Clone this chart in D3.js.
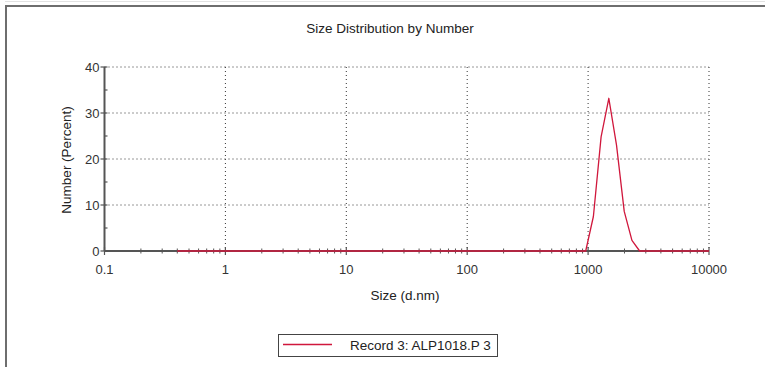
<!DOCTYPE html>
<html>
<head>
<meta charset="utf-8">
<script src="https://cdn.jsdelivr.net/npm/d3@7"></script>
<style>
  html, body { margin: 0; padding: 0; background: #fff; }
  svg { display: block; font-family: "Liberation Sans", Arial, sans-serif; }
</style>
</head>
<body>
<svg id="chart" width="765" height="367"></svg>
<script>
// Size classes (d.nm) of the measurement
const sizes = [0.4, 0.4632, 0.5365, 0.6213, 0.7195, 0.8332, 0.9649, 1.117, 1.294, 1.499,
  1.736, 2.01, 2.328, 2.696, 3.122, 3.615, 4.187, 4.849, 5.615, 6.503,
  7.531, 8.721, 10.1, 11.7, 13.54, 15.69, 18.17, 21.04, 24.36, 28.21,
  32.67, 37.84, 43.82, 50.75, 58.77, 68.06, 78.82, 91.28, 105.7, 122.4,
  141.8, 164.2, 190.1, 220.2, 255.0, 295.3, 342.0, 396.1, 458.7, 531.2,
  615.1, 712.4, 825.0, 955.4, 1106, 1281, 1484, 1718, 1990, 2305,
  2669, 3091, 3580, 4145, 4801, 5560, 6439, 7456, 8635, 10000];

// Number distribution (percent) for Record 3
const numberPct = [0, 0, 0, 0, 0, 0, 0, 0, 0, 0,
  0, 0, 0, 0, 0, 0, 0, 0, 0, 0,
  0, 0, 0, 0, 0, 0, 0, 0, 0, 0,
  0, 0, 0, 0, 0, 0, 0, 0, 0, 0,
  0, 0, 0, 0, 0, 0, 0, 0, 0, 0,
  0, 0, 0, 0, 7.5, 24.8, 33.2, 23.0, 8.6, 2.3,
  0, 0, 0, 0, 0, 0, 0, 0, 0, 0];

const xTickValues = [0.1, 1, 10, 100, 1000, 10000];
const xTickLabels = ["0.1", "1", "10", "100", "1000", "10000"];
const yTickValues = [0, 10, 20, 30, 40];
const yTickLabels = ["0", "10", "20", "30", "40"];

const titleText = "Size Distribution by Number";
const xLabel = "Size (d.nm)";
const yLabel = "Number (Percent)";
const legendText = "Record 3: ALP1018.P 3";

const svg = d3.select("#chart");
const plotL = 104.5, plotR = 709, plotT = 67, plotB = 251;
const x = d3.scaleLog().domain([0.1, 10000]).range([plotL, plotR]);
const y = d3.scaleLinear().domain([0, 40]).range([plotB, plotT]);

const axisCol = "#555";
const lineCol = "#d0173c";

// outer frame
svg.append("line").attr("x1", 5).attr("x2", 765).attr("y1", 1.5).attr("y2", 1.5)
  .attr("stroke", "#e2e2e2").attr("stroke-width", 1);
svg.append("line").attr("x1", 5).attr("x2", 765).attr("y1", 6).attr("y2", 6)
  .attr("stroke", "#6e6e6e").attr("stroke-width", 2);
svg.append("line").attr("x1", 6).attr("x2", 6).attr("y1", 5).attr("y2", 367)
  .attr("stroke", "#6e6e6e").attr("stroke-width", 2);

// title
svg.append("text").attr("x", 390).attr("y", 33).attr("text-anchor", "middle")
  .attr("font-size", 13.5).attr("fill", "#222").text(titleText);

// dotted grid
const g = svg.append("g");
g.selectAll(".hg").data(yTickValues.filter(v => v > 0)).join("line")
  .attr("x1", plotL).attr("x2", plotR)
  .attr("y1", d => y(d)).attr("y2", d => y(d))
  .attr("stroke", "#333").attr("stroke-width", 1).attr("stroke-dasharray", "1,3");
g.selectAll(".vg").data(xTickValues.filter(v => v > 0.1)).join("line")
  .attr("x1", d => x(d)).attr("x2", d => x(d))
  .attr("y1", plotT).attr("y2", plotB)
  .attr("stroke", "#333").attr("stroke-width", 1).attr("stroke-dasharray", "1,3");

// axes lines
svg.append("line").attr("x1", plotL).attr("x2", plotR).attr("y1", plotB).attr("y2", plotB)
  .attr("stroke", axisCol).attr("stroke-width", 2);
svg.append("line").attr("x1", plotL).attr("x2", plotL).attr("y1", plotT).attr("y2", plotB)
  .attr("stroke", axisCol).attr("stroke-width", 2);

// y ticks: major crossing, minor on the right
svg.selectAll(".ymaj").data(yTickValues).join("line")
  .attr("x1", plotL - 4).attr("x2", plotL + 3)
  .attr("y1", d => y(d)).attr("y2", d => y(d))
  .attr("stroke", axisCol).attr("stroke-width", 1.2);
svg.selectAll(".ymin").data([5, 15, 25, 35]).join("line")
  .attr("x1", plotL).attr("x2", plotL + 3)
  .attr("y1", d => y(d)).attr("y2", d => y(d))
  .attr("stroke", axisCol).attr("stroke-width", 1.2);
svg.selectAll(".ylab").data(yTickValues).join("text")
  .attr("x", plotL - 5).attr("y", d => y(d) + 5)
  .attr("text-anchor", "end").attr("font-size", 13).attr("fill", "#333")
  .text((d, i) => yTickLabels[i]);

// x ticks: minor ticks in every decade, major ticks at decades
const minorX = [];
for (let e = -1; e < 4; e++) for (let m = 2; m <= 9; m++) minorX.push(m * Math.pow(10, e));
svg.selectAll(".xmin").data(minorX).join("line")
  .attr("x1", d => x(d)).attr("x2", d => x(d))
  .attr("y1", plotB - 2.5).attr("y2", plotB + 2.5)
  .attr("stroke", axisCol).attr("stroke-width", 1);
svg.selectAll(".xmaj").data(xTickValues).join("line")
  .attr("x1", d => x(d)).attr("x2", d => x(d))
  .attr("y1", plotB - 4).attr("y2", plotB + 4)
  .attr("stroke", axisCol).attr("stroke-width", 1.2);
svg.selectAll(".xlab").data(xTickValues).join("text")
  .attr("x", d => x(d)).attr("y", plotB + 23)
  .attr("text-anchor", "middle").attr("font-size", 13).attr("fill", "#333")
  .text((d, i) => xTickLabels[i]);

// axis titles
svg.append("text").attr("x", 405).attr("y", 300).attr("text-anchor", "middle")
  .attr("font-size", 13.5).attr("fill", "#222").text(xLabel);
svg.append("text").attr("transform", "translate(71,160) rotate(-90)")
  .attr("text-anchor", "middle").attr("font-size", 13.5).attr("fill", "#222").text(yLabel);

// distribution curve
const line = d3.line().x((d, i) => x(sizes[i])).y(d => y(d));
svg.append("path").datum(numberPct).attr("d", line)
  .attr("fill", "none").attr("stroke", lineCol).attr("stroke-width", 1.3)
  .attr("stroke-linejoin", "round");

// legend
svg.append("rect").attr("x", 278.5).attr("y", 334.5).attr("width", 219).attr("height", 22)
  .attr("fill", "#fff").attr("stroke", "#444").attr("stroke-width", 1);
svg.append("line").attr("x1", 283).attr("x2", 332).attr("y1", 344.5).attr("y2", 344.5)
  .attr("stroke", lineCol).attr("stroke-width", 1.3);
svg.append("text").attr("x", 350).attr("y", 350).attr("font-size", 13.5).attr("fill", "#222")
  .text(legendText);
</script>
</body>
</html>
